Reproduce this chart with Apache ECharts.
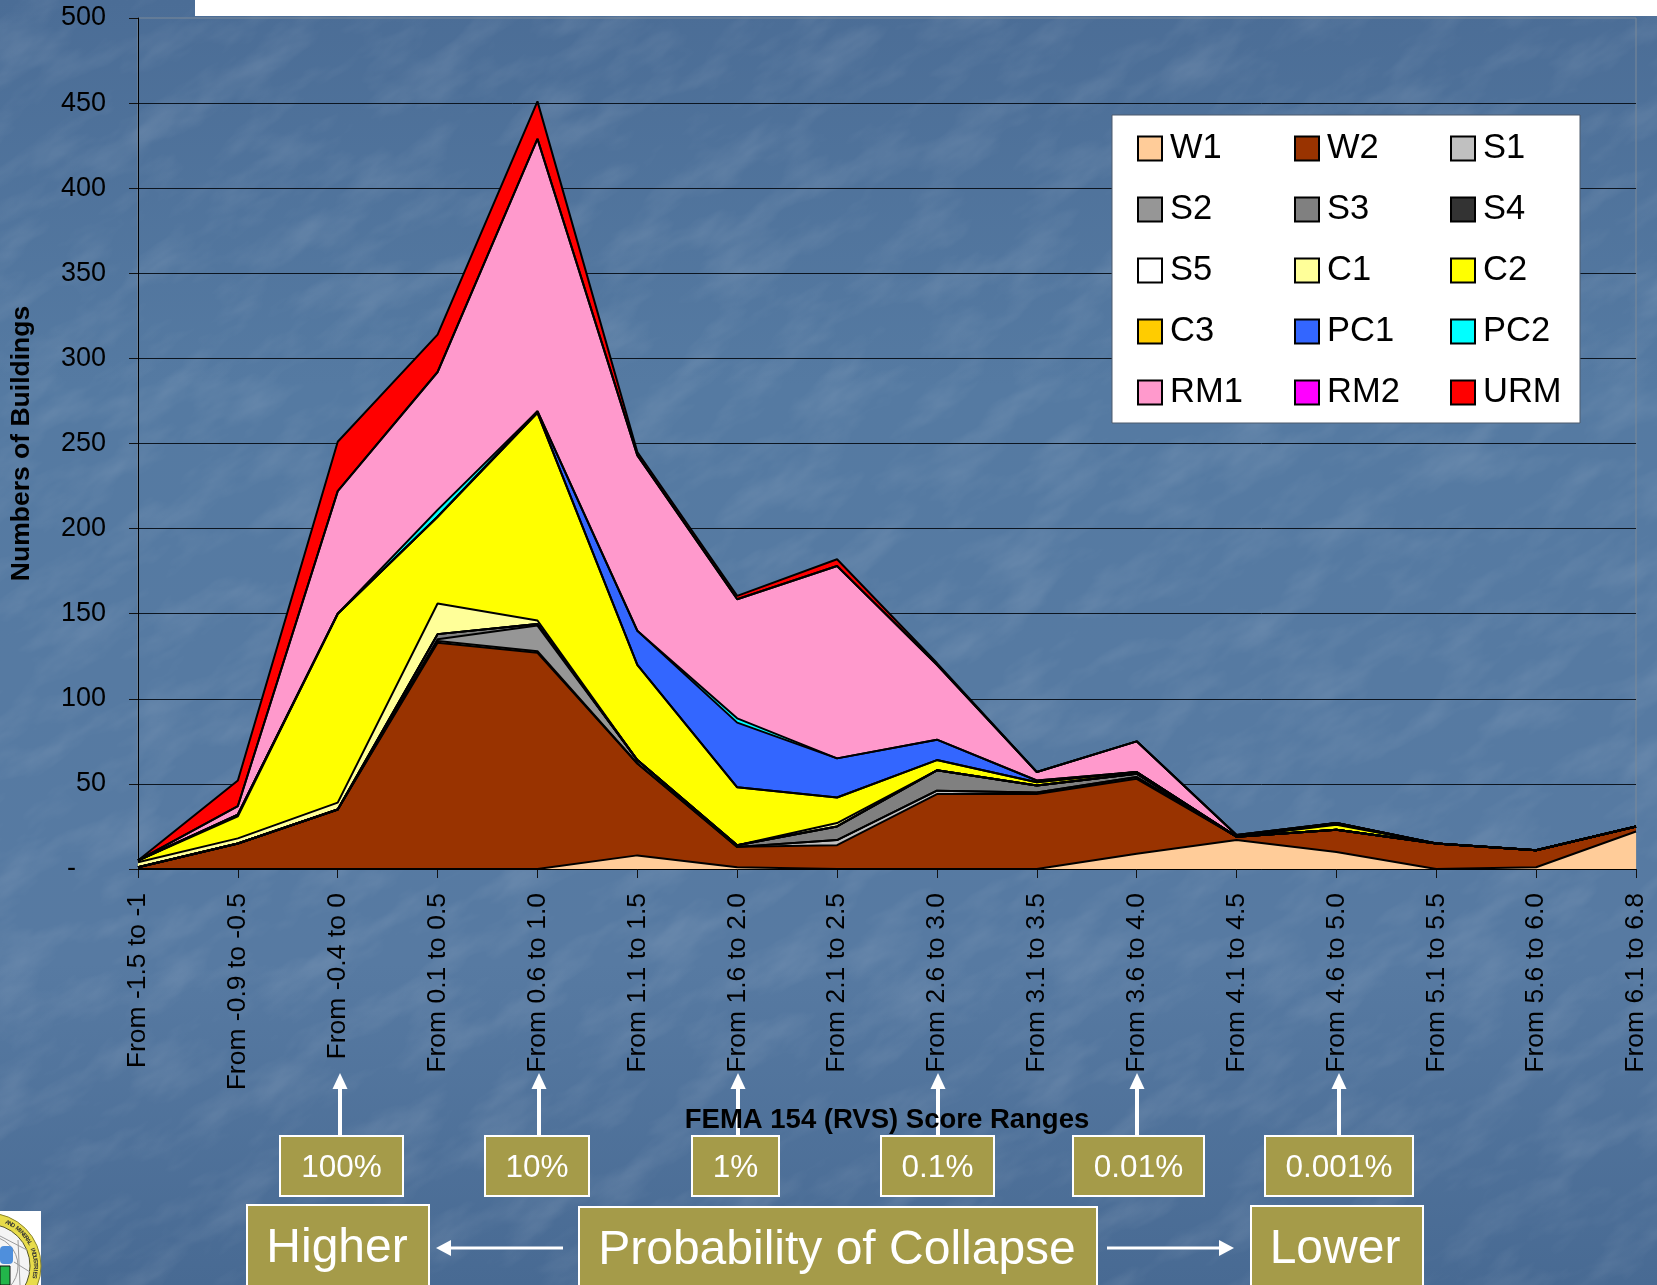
<!DOCTYPE html>
<html>
  <head>
    <meta charset="utf-8" />
    <title>FEMA 154 RVS Score Ranges</title>
    <script src="https://cdn.jsdelivr.net/npm/echarts@6/dist/echarts.min.js"></script>
    <style>
      html, body { margin: 0; padding: 0; background: #4d6f97; overflow: hidden; }
      #bg { position: absolute; left: 0; top: 0; }
      #chart { position: absolute; left: 0; top: 0; width: 1657px; height: 1285px; }
    </style>
  </head>
  <body>
    <!-- slide background: water texture -->
    <svg id="bg" width="1657" height="1285">
      <defs>
        <linearGradient id="fade" x1="0" y1="0" x2="0" y2="1">
          <stop offset="0" stop-color="#4b6d96" />
          <stop offset="0.3" stop-color="#557aa2" />
          <stop offset="0.75" stop-color="#577aa2" />
          <stop offset="1" stop-color="#486a93" />
        </linearGradient>
        <filter id="water" x="0" y="0" width="100%" height="100%">
          <feTurbulence type="fractalNoise" baseFrequency="0.012 0.03" numOctaves="4" seed="7" />
          <feColorMatrix type="matrix" values="0 0 0 0 1  0 0 0 0 1  0 0 0 0 1  1.4 0 0 0 -0.62" />
        </filter>
      </defs>
      <rect width="1657" height="1285" fill="url(#fade)" />
      <g transform="rotate(-32 828 642)">
        <rect x="-500" y="-500" width="2700" height="2300" filter="url(#water)" opacity="0.16" />
      </g>
    </svg>
    <div id="chart"></div>
    <script>
      var scoreRanges = [
        "From -1.5 to -1", "From -0.9 to -0.5", "From -0.4 to 0", "From 0.1 to 0.5",
        "From 0.6 to 1.0", "From 1.1 to 1.5", "From 1.6 to 2.0", "From 2.1 to 2.5",
        "From 2.6 to 3.0", "From 3.1 to 3.5", "From 3.6 to 4.0", "From 4.1 to 4.5",
        "From 4.6 to 5.0", "From 5.1 to 5.5", "From 5.6 to 6.0", "From 6.1 to 6.8",
      ];

      // buildings per score range
      var W1 = [0, 0, 0, 0, 0, 8, 1, 0, 0, 0, 9, 17, 10, 0, 1, 22];
      var W2 = [1, 15, 35, 133, 127, 54, 12, 14, 44, 44, 44, 2, 13, 15, 10, 3];
      var S1 = [0, 0, 0, 1, 1, 0, 0, 3, 2, 1, 1, 0, 0, 0, 0, 0];
      var S2 = [0, 0, 0, 1, 15, 2, 0, 0, 0, 0, 0, 0, 0, 0, 0, 0];
      var S3 = [0, 0, 0, 3, 1, 0, 1, 8, 12, 4, 2, 0, 0, 0, 0, 0];
      var S4 = [0, 0, 0, 0, 0, 0, 0, 0, 0, 0, 0, 0, 0, 0, 0, 0];
      var S5 = [0, 0, 0, 0, 0, 0, 0, 0, 0, 0, 0, 0, 0, 0, 0, 0];
      var C1 = [3, 3, 4, 18, 2, 0, 0, 2, 0, 0, 0, 0, 0, 0, 0, 0];
      var C2 = [1, 13, 111, 51, 122, 56, 34, 15, 6, 2, 1, 0, 3, 0, 0, 0];
      var C3 = [0, 1, 0, 0, 0, 0, 0, 0, 0, 0, 0, 0, 0.5, 0, 0, 0];
      var PC1 = [0, 0, 0, 0, 1, 20, 38, 23, 12, 1, 0, 0, 0.5, 0, 0, 0];
      var PC2 = [0, 0, 0, 4, 0, 0, 2.5, 0, 0, 0, 0, 0, 0, 0, 0, 0];
      var RM1 = [0, 5, 72, 81, 160, 103, 70, 113, 44, 5, 18, 1, 0, 0, 0, 0];
      var RM2 = [0, 0, 0, 0, 0, 0, 0, 0, 0, 0, 0, 0, 0, 0, 0, 0];
      var URM = [0, 15, 29, 22, 22, 2, 2, 4, 1, 0, 0, 0, 0, 0, 0, 0];

      var typeNames = ["W1", "W2", "S1", "S2", "S3", "S4", "S5", "C1", "C2", "C3", "PC1", "PC2", "RM1", "RM2", "URM"];
      var typeValues = [W1, W2, S1, S2, S3, S4, S5, C1, C2, C3, PC1, PC2, RM1, RM2, URM];
      var typeColors = ["#ffcc99", "#993300", "#c0c0c0", "#969696", "#808080", "#333333", "#ffffff", "#ffff99", "#ffff00", "#ffcc00", "#3366ff", "#00ffff", "#ff99cc", "#ff00ff", "#ff0000"];

      var probabilityLabels = ["100%", "10%", "1%", "0.1%", "0.01%", "0.001%"];
      var logoText = "AND MINERAL INDUSTRIES";

      var FONT = '"Liberation Sans", Arial, sans-serif';
      var OLIVE = "#a59b49";

      function box(x, y, w, h, text, size, textY, textDx) {
        return [
          { type: "rect", z: 5, shape: { x: x, y: y, width: w, height: h }, style: { fill: OLIVE, stroke: "#fff", lineWidth: 2 } },
          { type: "text", z: 6, x: x + w / 2 + (textDx || 0), y: textY,
            style: { text: text, fill: "#fff", font: size + "px " + FONT, textAlign: "center", textVerticalAlign: "middle" } },
        ];
      }

      function upArrow(x, yBottom, yTip) {
        return [
          { type: "line", z: -1, shape: { x1: x, y1: yBottom, x2: x, y2: yTip + 12 }, style: { stroke: "#fff", lineWidth: 4 } },
          { type: "polygon", z: -1, shape: { points: [[x, yTip], [x - 7.5, yTip + 16], [x + 7.5, yTip + 16]] }, style: { fill: "#fff" } },
        ];
      }

      function sideArrow(xTail, xTip, y) {
        var dir = xTip > xTail ? 1 : -1;
        return [
          { type: "line", z: 5, shape: { x1: xTail, y1: y, x2: xTip - dir * 10, y2: y }, style: { stroke: "#fff", lineWidth: 3 } },
          { type: "polygon", z: 5, shape: { points: [[xTip, y], [xTip - dir * 15, y - 8], [xTip - dir * 15, y + 8]] }, style: { fill: "#fff" } },
        ];
      }

      // the seal in the bottom left corner, cut off by the slide edge
      function logo() {
        var cx = -12, cy = 1266;
        var parts = [
          { type: "rect", z: 5, shape: { x: 0, y: 1211, width: 41, height: 74 }, style: { fill: "#fff" } },
          { type: "circle", z: 6, shape: { cx: cx, cy: cy, r: 53 }, style: { fill: "#e8dc4a", stroke: "#8a8430", lineWidth: 1 } },
          { type: "circle", z: 6, shape: { cx: cx, cy: cy, r: 42 }, style: { fill: "#f4f4f4", stroke: "#55552a", lineWidth: 1 } },
          { type: "circle", z: 6, shape: { cx: cx, cy: cy, r: 30 }, style: { fill: "none", stroke: "#9a9a9a", lineWidth: 1 } },
          { type: "line", z: 6, shape: { x1: 0, y1: 1236, x2: 27, y2: 1250 }, style: { stroke: "#9a9a9a", lineWidth: 1 } },
          { type: "line", z: 6, shape: { x1: 14, y1: 1262, x2: 30, y2: 1272 }, style: { stroke: "#9a9a9a", lineWidth: 1 } },
          { type: "line", z: 6, shape: { x1: 18, y1: 1240, x2: 20, y2: 1285 }, style: { stroke: "#9a9a9a", lineWidth: 1 } },
          { type: "rect", z: 7, shape: { x: 0, y: 1246, width: 13, height: 18, r: 4 }, style: { fill: "#4f8fdc" } },
          { type: "rect", z: 7, shape: { x: 0, y: 1266, width: 10, height: 19 }, style: { fill: "#22b54a", stroke: "#111", lineWidth: 1 } },
        ];
        logoText.split("").forEach(function(ch, i) {
          var deg = -66 + i * 3.75;
          var rad = deg * Math.PI / 180;
          parts.push({
            type: "text", z: 7,
            x: cx + 47.5 * Math.cos(rad),
            y: cy + 47.5 * Math.sin(rad),
            rotation: -(rad + Math.PI / 2),
            style: { text: ch, fill: "#333", font: "bold 6px " + FONT, textAlign: "center", textVerticalAlign: "middle" },
          });
        });
        return parts;
      }

      var boxes = [
        [280, 123], [485, 104], [692, 87], [881, 113], [1073, 131], [1265, 148],
      ];
      var arrowX = [340, 539, 738, 938, 1137, 1339];

      var graphics = [
        // white strip along the top of the slide
        { type: "rect", z: 5, shape: { x: 195, y: 0, width: 1462, height: 16 }, style: { fill: "#fff" } },
        // legend panel
        { type: "rect", z: 1, shape: { x: 1112, y: 115, width: 468, height: 308 }, style: { fill: "#fff", stroke: "#4c5a6c", lineWidth: 1 } },
      ];
      graphics = graphics.concat(
        logo(),
        box(247, 1205, 182, 90, "Higher", 48, 1249, -1),
        box(579, 1207, 518, 90, "Probability of Collapse", 48, 1251, -1),
        box(1251, 1206, 172, 90, "Lower", 48, 1250, -2)
      );
      boxes.forEach(function(b, i) {
        graphics = graphics.concat(
          box(b[0], 1136, b[1], 60, probabilityLabels[i], 31.5, 1168),
          upArrow(arrowX[i], 1136, 1073)
        );
      });
      graphics = graphics.concat(sideArrow(563, 436, 1248), sideArrow(1107, 1234, 1248));

      // column of the legend: every third type
      function legendColumn(col, left) {
        var names = typeNames.filter(function(n, i) { return i % 3 === col; });
        return {
          data: names,
          orient: "vertical",
          left: left,
          top: 131,
          padding: 0,
          itemWidth: 24,
          itemHeight: 24,
          itemGap: 26,
          icon: "rect",
          itemStyle: { borderColor: "#000", borderWidth: 2 },
          textStyle: { fontFamily: FONT, fontSize: 34.5, color: "#000", padding: [2, 0, 0, 3] },
        };
      }

      var option = {
        animation: false,
        grid: { left: 138, right: 21, top: 18, bottom: 416, outerBoundsMode: "none", show: true, borderColor: "#7d8a98", borderWidth: 1 },
        legend: [legendColumn(0, 1137), legendColumn(1, 1294), legendColumn(2, 1450)],
        xAxis: {
          type: "category",
          boundaryGap: false,
          data: scoreRanges,
          name: "FEMA 154 (RVS) Score Ranges",
          nameLocation: "middle",
          nameGap: 237,
          nameTextStyle: { fontFamily: FONT, fontWeight: "bold", fontSize: 27.5, color: "#000" },
          axisLine: { lineStyle: { color: "#000", width: 1 } },
          axisTick: { show: true, alignWithLabel: true, length: 9, lineStyle: { color: "#111" } },
          axisLabel: { rotate: 90, interval: 0, margin: 24, fontFamily: FONT, fontSize: 26.5, color: "#000" },
        },
        yAxis: {
          type: "value",
          min: 0,
          max: 500,
          interval: 50,
          name: "Numbers of Buildings",
          nameLocation: "middle",
          nameGap: 103,
          nameTextStyle: { fontFamily: FONT, fontWeight: "bold", fontSize: 26.5, color: "#000" },
          axisLine: { show: true, lineStyle: { color: "#000", width: 1 } },
          axisTick: { show: true, length: 9, lineStyle: { color: "#111" } },
          axisLabel: {
            margin: 32,
            padding: [8, 0, 0, 0],
            fontFamily: FONT,
            fontSize: 27,
            color: "#000",
            formatter: function(v) { return v === 0 ? "-    " : String(v); },
          },
          splitLine: { show: true, showMaxLine: false, lineStyle: { color: "#0c1520", width: 1 } },
        },
        series: typeNames.map(function(name, i) {
          return {
            name: name,
            type: "line",
            stack: "total",
            symbol: "none",
            smooth: false,
            data: typeValues[i],
            itemStyle: { color: typeColors[i] },
            lineStyle: { color: "#000", width: 2 },
            areaStyle: { color: typeColors[i], opacity: 1 },
          };
        }),
        graphic: { elements: graphics },
      };

      var chart = echarts.init(document.getElementById("chart"));
      chart.setOption(option);
    </script>
  </body>
</html>
